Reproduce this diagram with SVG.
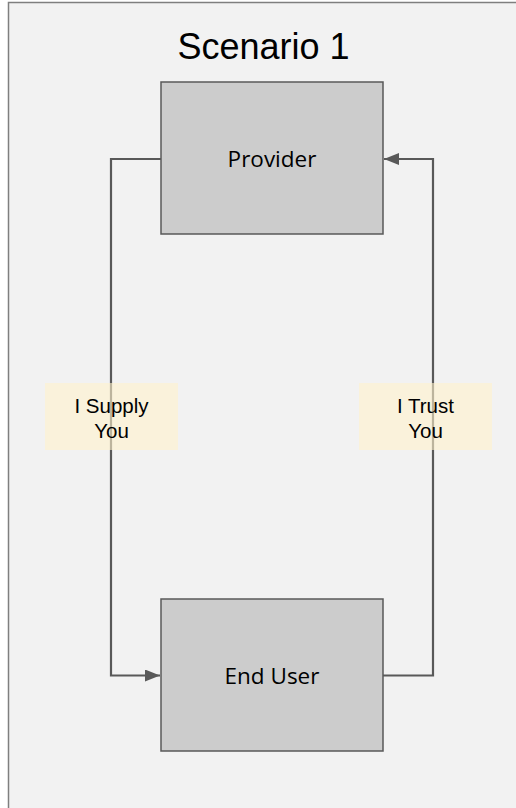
<svg xmlns="http://www.w3.org/2000/svg" width="516" height="808" viewBox="0 0 516 808">
  <style>
    .frame { fill: #f2f2f2; stroke: #7f7f7f; stroke-width: 1.5; }
    .node { fill: #cccccc; stroke: #595959; stroke-width: 1.5; }
    .node-text { font-family: "Open Sans", "Noto Sans", sans-serif; font-size: 22.5px; fill: #000000; text-anchor: middle; }
    .title { font-family: "Liberation Sans", Arial, sans-serif; font-size: 36px; fill: #000000; text-anchor: middle; }
    .edge { fill: none; stroke: #595959; stroke-width: 2.2; }
    .label-bg { fill: #fff2cc; opacity: 0.6; }
    .label-text { font-family: "Liberation Sans", Arial, sans-serif; font-size: 20.5px; fill: #000000; text-anchor: middle; }
  </style>
  <defs>
    <marker id="arrow" viewBox="0 0 15 12" refX="15" refY="6" markerWidth="15" markerHeight="12" markerUnits="userSpaceOnUse" orient="auto">
      <path d="M0,0 L15,6 L0,12 Z" fill="#595959"/>
    </marker>
  </defs>
  <rect width="516" height="808" fill="#ffffff"/>
  <rect class="frame" x="8.5" y="2.5" width="520" height="820"/>
  <text class="title" x="263.5" y="59">Scenario 1</text>

  <g id="connectors">
    <path class="edge" d="M161,159 H111 V675.5 H160" marker-end="url(#arrow)"/>
    <path class="edge" d="M383,675.5 H433 V159 H384" marker-end="url(#arrow)"/>
  </g>

  <g id="provider">
    <rect class="node" x="161" y="82" width="222" height="152"/>
    <text class="node-text" x="272" y="167">Provider</text>
  </g>

  <g id="end-user">
    <rect class="node" x="161" y="599" width="222" height="152"/>
    <text class="node-text" x="272" y="684">End User</text>
  </g>

  <g id="label-supply">
    <rect class="label-bg" x="45" y="383" width="133" height="67"/>
    <text class="label-text" x="111.5" y="413">I Supply</text>
    <text class="label-text" x="111.5" y="438">You</text>
  </g>

  <g id="label-trust">
    <rect class="label-bg" x="359" y="383" width="133" height="67"/>
    <text class="label-text" x="425.5" y="413">I Trust</text>
    <text class="label-text" x="425.5" y="438">You</text>
  </g>
</svg>
